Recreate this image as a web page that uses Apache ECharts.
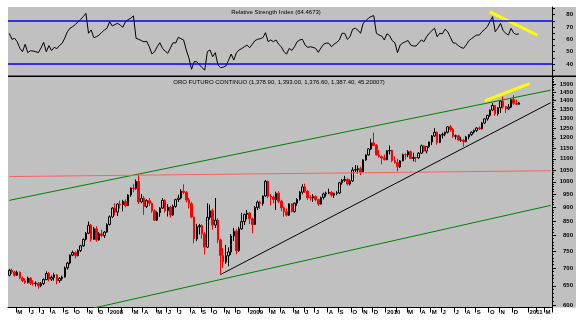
<!DOCTYPE html>
<html><head><meta charset="utf-8">
<script src="https://cdn.jsdelivr.net/npm/echarts@6/dist/echarts.min.js"></script>
<style>html,body{margin:0;padding:0;background:#fff;}#c{width:587px;height:323px;}</style>
</head><body><div id="c"></div>
<script>
// ---- data ----
const weekStart = '2007-04-09';
const weekCount = 206;

const open = [
679,693,688,679,687,671,664,659,671,657,
656,657,650,656,667,684,668,673,680,664,
670,674,700,714,738,746,737,752,767,788,
808,835,788,823,786,806,800,812,838,865,
897,882,912,910,922,906,947,975,972,1001,
920,934,903,925,915,887,853,880,897,926,
887,900,872,903,929,935,962,957,927,913,
864,789,830,834,806,763,863,887,836,853,
786,737,718,736,748,799,815,752,823,848,
874,878,858,838,899,919,914,943,1002,942,
939,929,953,923,898,883,871,913,884,915,
930,958,979,962,936,935,941,929,912,937,
951,954,957,946,953,955,996,1006,1010,991,
1004,1050,1052,1056,1041,1095,1118,1146,1175,1162,
1118,1110,1104,1096,1137,1139,1092,1083,1064,1091,
1119,1118,1133,1102,1106,1105,1126,1161,1136,1157,
1180,1209,1228,1177,1214,1218,1228,1256,1242,1208,
1210,1189,1189,1181,1204,1216,1228,1237,1250,1246,
1276,1298,1317,1346,1372,1325,1359,1397,1366,1353,
1363,1406,1385,1378.9];
const high = [
697,698,692,692,690,675,670,675,673,665,
662,660,660,670,690,688,678,686,682,674,
678,704,718,740,752,750,756,770,790,812,
848,840,830,832,812,820,815,842,870,900,
915,915,925,928,930,950,976,992,1010,1033,
950,942,930,935,918,892,885,900,935,930,
912,905,910,932,948,970,990,962,935,920,
866,840,840,838,812,915,910,895,935,860,
790,760,770,762,805,826,822,830,880,876,
890,882,862,904,925,925,945,1007,1005,950,
945,960,962,928,902,895,915,915,918,935,
962,990,992,965,945,950,945,932,940,956,
960,972,962,956,962,1000,1012,1025,1015,1010,
1062,1072,1070,1065,1098,1120,1150,1196,1226,1170,
1140,1115,1120,1140,1162,1142,1112,1100,1094,1124,
1125,1140,1138,1128,1110,1130,1167,1164,1160,1180,
1214,1249,1232,1218,1226,1232,1260,1266,1250,1216,
1215,1205,1195,1210,1218,1232,1242,1254,1258,1280,
1300,1320,1350,1387,1375,1362,1400,1424,1370,1380,
1410,1432,1405,1393];
const low = [
676,683,675,677,668,660,655,656,652,650,
648,642,646,652,665,662,663,664,654,658,
664,672,695,710,735,728,734,748,764,784,
805,780,786,780,784,795,792,810,834,860,
870,868,895,885,900,904,940,958,968,912,
915,872,897,905,880,850,850,865,894,880,
866,862,868,898,920,930,950,918,895,860,
775,782,804,790,740,760,855,820,826,775,
681,700,712,705,738,782,741,748,820,836,
856,840,808,836,890,894,906,940,935,906,
915,890,915,885,865,866,868,880,880,905,
925,950,955,928,925,920,922,905,910,930,
940,950,940,935,946,950,988,1000,985,985,
1000,1040,1035,1028,1038,1090,1115,1140,1160,1115,
1105,1075,1092,1094,1120,1085,1078,1045,1060,1088,
1097,1108,1100,1088,1085,1100,1122,1130,1125,1150,
1165,1206,1166,1174,1196,1208,1222,1230,1200,1192,
1183,1180,1157,1178,1192,1210,1222,1230,1240,1242,
1270,1288,1310,1340,1315,1315,1330,1355,1330,1345,
1357,1375,1373,1376.6];
const close = [
693,688,679,687,671,664,659,671,657,656,
657,650,656,667,684,668,673,680,664,670,
674,700,714,738,746,737,752,767,788,808,
835,788,823,786,806,800,812,838,865,897,
882,912,910,922,906,947,975,972,1001,920,
934,903,925,915,887,853,880,897,926,887,
900,872,903,929,935,962,957,927,913,864,
789,830,834,806,763,863,887,836,853,786,
737,718,736,748,799,815,752,823,848,874,
878,858,838,899,919,914,943,1002,942,939,
929,953,923,898,883,871,913,884,915,930,
958,979,962,936,935,941,929,912,937,951,
954,957,946,953,955,996,1006,1010,991,1004,
1050,1052,1056,1041,1095,1118,1146,1175,1162,1118,
1110,1104,1096,1137,1139,1092,1083,1064,1091,1119,
1118,1133,1102,1106,1105,1126,1161,1136,1157,1180,
1209,1228,1177,1214,1218,1228,1256,1242,1208,1210,
1189,1189,1181,1204,1216,1228,1237,1250,1246,1276,
1298,1317,1346,1372,1325,1359,1397,1366,1353,1363,
1406,1385,1379,1387.4];

const rsi = [
64.9,60,60.8,58,52.7,50,56,49.2,50.8,50.5,
50,49.2,53,57.6,50,54.9,50.8,53.5,52.5,55,
56.8,61,66.2,69,70.3,72,74.3,76,78.4,81.1,
64.9,67.6,61.3,62.1,63.5,65.7,67.5,69,74.3,70.8,
72,73,71.5,69.8,74.3,76,77.1,79,60.8,60,
59,58,58.5,54,48.1,50,54,57.3,52.7,50.5,
48.7,53,57.3,57,61.7,60.5,59.5,51.4,45,35.7,
41.9,41.9,39.4,37,35.1,50,51.4,45.9,49.2,39.2,
37,37.5,38.4,43,48.1,43.2,49.2,51.4,52.5,54,
55.4,53.2,56,58.9,60,60.5,61.3,65.4,58.1,59.5,
58.1,59.5,56,54,50,48.1,52.7,51,54,58.1,
59.5,60,55.4,53.5,54,53.5,52.7,49.5,53,56,
57,56.8,54,56.2,57.5,59.5,64.9,64.9,60,62.1,
68.2,69,67.5,64.9,73,75,77.1,78.5,79.2,64.9,
63.5,62.7,59.5,64.5,63,58.9,57.3,49.2,55.4,57,
58.1,59,55.4,54.6,54.6,57,59.5,58.1,62.1,64.9,
67,69,62.1,64.9,64.5,68.2,66.2,61.7,57.3,56.8,
55,53.5,52.7,55.4,58.9,60.5,62.1,63.5,63.5,66.2,
68,70.3,74.3,78.4,66.2,69,73,67,64.9,63.5,
69,65,64,64.4673];

const rsiLevels = [40, 75];
const rsiLabelValues = [40, 50, 60, 70, 80];
const rsiTickValues = [35, 40, 45, 50, 55, 60, 65, 70, 75, 80, 85];
const priceLabelValues = [600,650,700,750,800,850,900,950,1000,1050,1100,1150,1200,1250,1300,1350,1400,1450,1500];
const priceMinorValues = [];
for (let v = 600; v <= 1540; v += 10) priceMinorValues.push(v);

const monthTickIdx = [3,8,12,16,21,25,30,34,38,43,47,51,56,60,64,69,73,77,82,86,91,95,99,103,108,112,116,121,125,130,134,138,143,147,151,156,160,164,169,173,177,182,186,191,197,200,203];
const monthTickLbl = ['M','J','J','A','S','O','N','D','2008','','M','A','M','J','J','A','S','O','N','D','2009','','M','A','M','J','J','A','S','O','N','D','2010','','M','A','M','J','J','A','S','O','N','D','2011','','M'];

// trend lines (category index, value)
const upperChannelIdx = [0, 205], upperChannelVal = [926, 1462];
const lowerChannelIdx = [0, 205], lowerChannelVal = [548, 907];
const resistIdx = [0, 205], resistVal = [1022, 1047];
const supportIdx = [80, 205], supportVal = [681, 1388];
const priceYellowIdx = [180, 197], priceYellowVal = [1399, 1502];
const rsiYellowIdx = [182, 200], rsiYellowVal = [82.2, 63.3];

const rsiTitle = 'Relative Strength Index (64.4673)';
const priceTitle = 'ORO FUTURO CONTINUO (1,378.90, 1,393.00, 1,376.60, 1,387.40, 45.20007)';

// ---- build ----
const categories = [];
(function () {
  const d0 = new Date(weekStart + 'T00:00:00Z').getTime();
  for (let i = 0; i < weekCount; i++) categories.push(new Date(d0 + i * 7 * 86400000).toISOString().slice(0, 10));
})();
const candleData = open.map((o, i) => [o, close[i], low[i], high[i]]);
const pairs = (idx, val) => idx.map((k, j) => [k, val[j]]);
const tickSet = new Set(monthTickIdx);
const labelMap = new Map(monthTickIdx.map((k, j) => [k, monthTickLbl[j]]));

const P_MIN = 594, P_MAX = 1544;
const FONT = 'Arial, "Liberation Sans", sans-serif';
const lbl = { fontSize: 6, color: '#000', fontFamily: FONT, fontWeight: 'bold' };

function trend(idx, val, color, width, z) {
  return { type: 'line', xAxisIndex: 1, yAxisIndex: 1, data: pairs(idx, val), symbol: 'none',
    lineStyle: { color: color, width: width }, z: z, silent: true, animation: false };
}

const chart = echarts.init(document.getElementById('c'), null, { renderer: 'canvas' });
chart.setOption({
  animation: false,
  backgroundColor: '#ffffff',
  graphic: [
    { type: 'rect', z: -100, silent: true, shape: { x: 8, y: 7, width: 568, height: 300.5 }, style: { fill: '#c0c0c0' } },
    { type: 'rect', z: 100, silent: true, shape: { x: 8, y: 75.5, width: 568, height: 1.5 }, style: { fill: '#000' } },
    { type: 'text', z: 100, silent: true, x: 276, y: 12.5, style: { text: rsiTitle, font: '6px ' + FONT, fill: '#000', align: 'center', verticalAlign: 'middle', textAlign: 'center', textVerticalAlign: 'middle' } },
    { type: 'text', z: 100, silent: true, x: 279, y: 82, style: { text: priceTitle, font: '6px ' + FONT, fill: '#000', align: 'center', verticalAlign: 'middle', textAlign: 'center', textVerticalAlign: 'middle' } }
  ],
  grid: [
    { left: 8, top: 7, width: 544, height: 69 },
    { left: 8, top: 77, width: 544, height: 230.5 }
  ],
  xAxis: [
    { type: 'category', gridIndex: 0, data: categories, boundaryGap: true, show: false },
    { type: 'category', gridIndex: 1, data: categories, boundaryGap: true,
      axisLine: { show: true, onZero: false, lineStyle: { color: '#000', width: 1 } },
      axisTick: { show: true, alignWithLabel: false, interval: (i) => tickSet.has(i), length: 5, lineStyle: { color: '#000', width: 1 } },
      axisLabel: Object.assign({ show: true, interval: (i) => tickSet.has(i) && labelMap.get(i) !== '', formatter: (v, i) => labelMap.get(i) || '', align: 'left', margin: 2 }, lbl),
      splitLine: { show: false } }
  ],
  yAxis: [
    { type: 'value', gridIndex: 0, position: 'right', min: 30.3, max: 86.2,
      axisLine: { show: true, lineStyle: { color: '#000' } },
      axisTick: { show: true, customValues: rsiTickValues, length: 3, lineStyle: { color: '#000' } },
      axisLabel: Object.assign({ customValues: rsiLabelValues, align: 'right', margin: 21 }, lbl),
      splitLine: { show: false } },
    { type: 'log', gridIndex: 1, min: P_MIN, max: P_MAX, show: false, splitLine: { show: false } },
    { type: 'value', gridIndex: 1, position: 'right', min: Math.log10(P_MIN), max: Math.log10(P_MAX),
      axisLine: { show: true, lineStyle: { color: '#000' } },
      axisTick: { show: true, customValues: priceLabelValues.map(Math.log10), length: 4, lineStyle: { color: '#000' } },
      axisLabel: Object.assign({ customValues: priceLabelValues.map(Math.log10), formatter: (v) => String(Math.round(Math.pow(10, v))), align: 'right', margin: 21 }, lbl),
      splitLine: { show: false } },
    { type: 'value', gridIndex: 1, position: 'right', min: Math.log10(P_MIN), max: Math.log10(P_MAX),
      axisLine: { show: false },
      axisTick: { show: true, customValues: priceMinorValues.map(Math.log10), length: 2, lineStyle: { color: '#000' } },
      axisLabel: { show: false },
      splitLine: { show: false } }
  ],
  series: [
    { type: 'line', xAxisIndex: 0, yAxisIndex: 0, data: rsi, symbol: 'none', showSymbol: false,
      lineStyle: { color: '#000', width: 1 }, z: 3, silent: true,
      markLine: { silent: true, symbol: ['none', 'none'], label: { show: false },
        lineStyle: { color: '#0000ff', type: 'solid', width: 1.5 },
        data: rsiLevels.map(v => ({ yAxis: v })) } },
    { type: 'line', xAxisIndex: 0, yAxisIndex: 0, data: pairs(rsiYellowIdx, rsiYellowVal), symbol: 'none',
      lineStyle: { color: '#ffff00', width: 3 }, z: 4, silent: true },
    { type: 'candlestick', xAxisIndex: 1, yAxisIndex: 1, data: candleData, barWidth: 2, silent: true, z: 2,
      itemStyle: { color: '#c0c0c0', color0: '#ff0000', borderColor: '#000000', borderColor0: '#ff0000', borderWidth: 1 } },
    trend(upperChannelIdx, upperChannelVal, '#008000', 1, 3),
    trend(lowerChannelIdx, lowerChannelVal, '#008000', 1, 3),
    trend(resistIdx, resistVal, '#ff6060', 1, 3),
    trend(supportIdx, supportVal, '#000000', 1, 3),
    trend(priceYellowIdx, priceYellowVal, '#ffff00', 3, 4)
  ]
});
</script>
</body></html>
